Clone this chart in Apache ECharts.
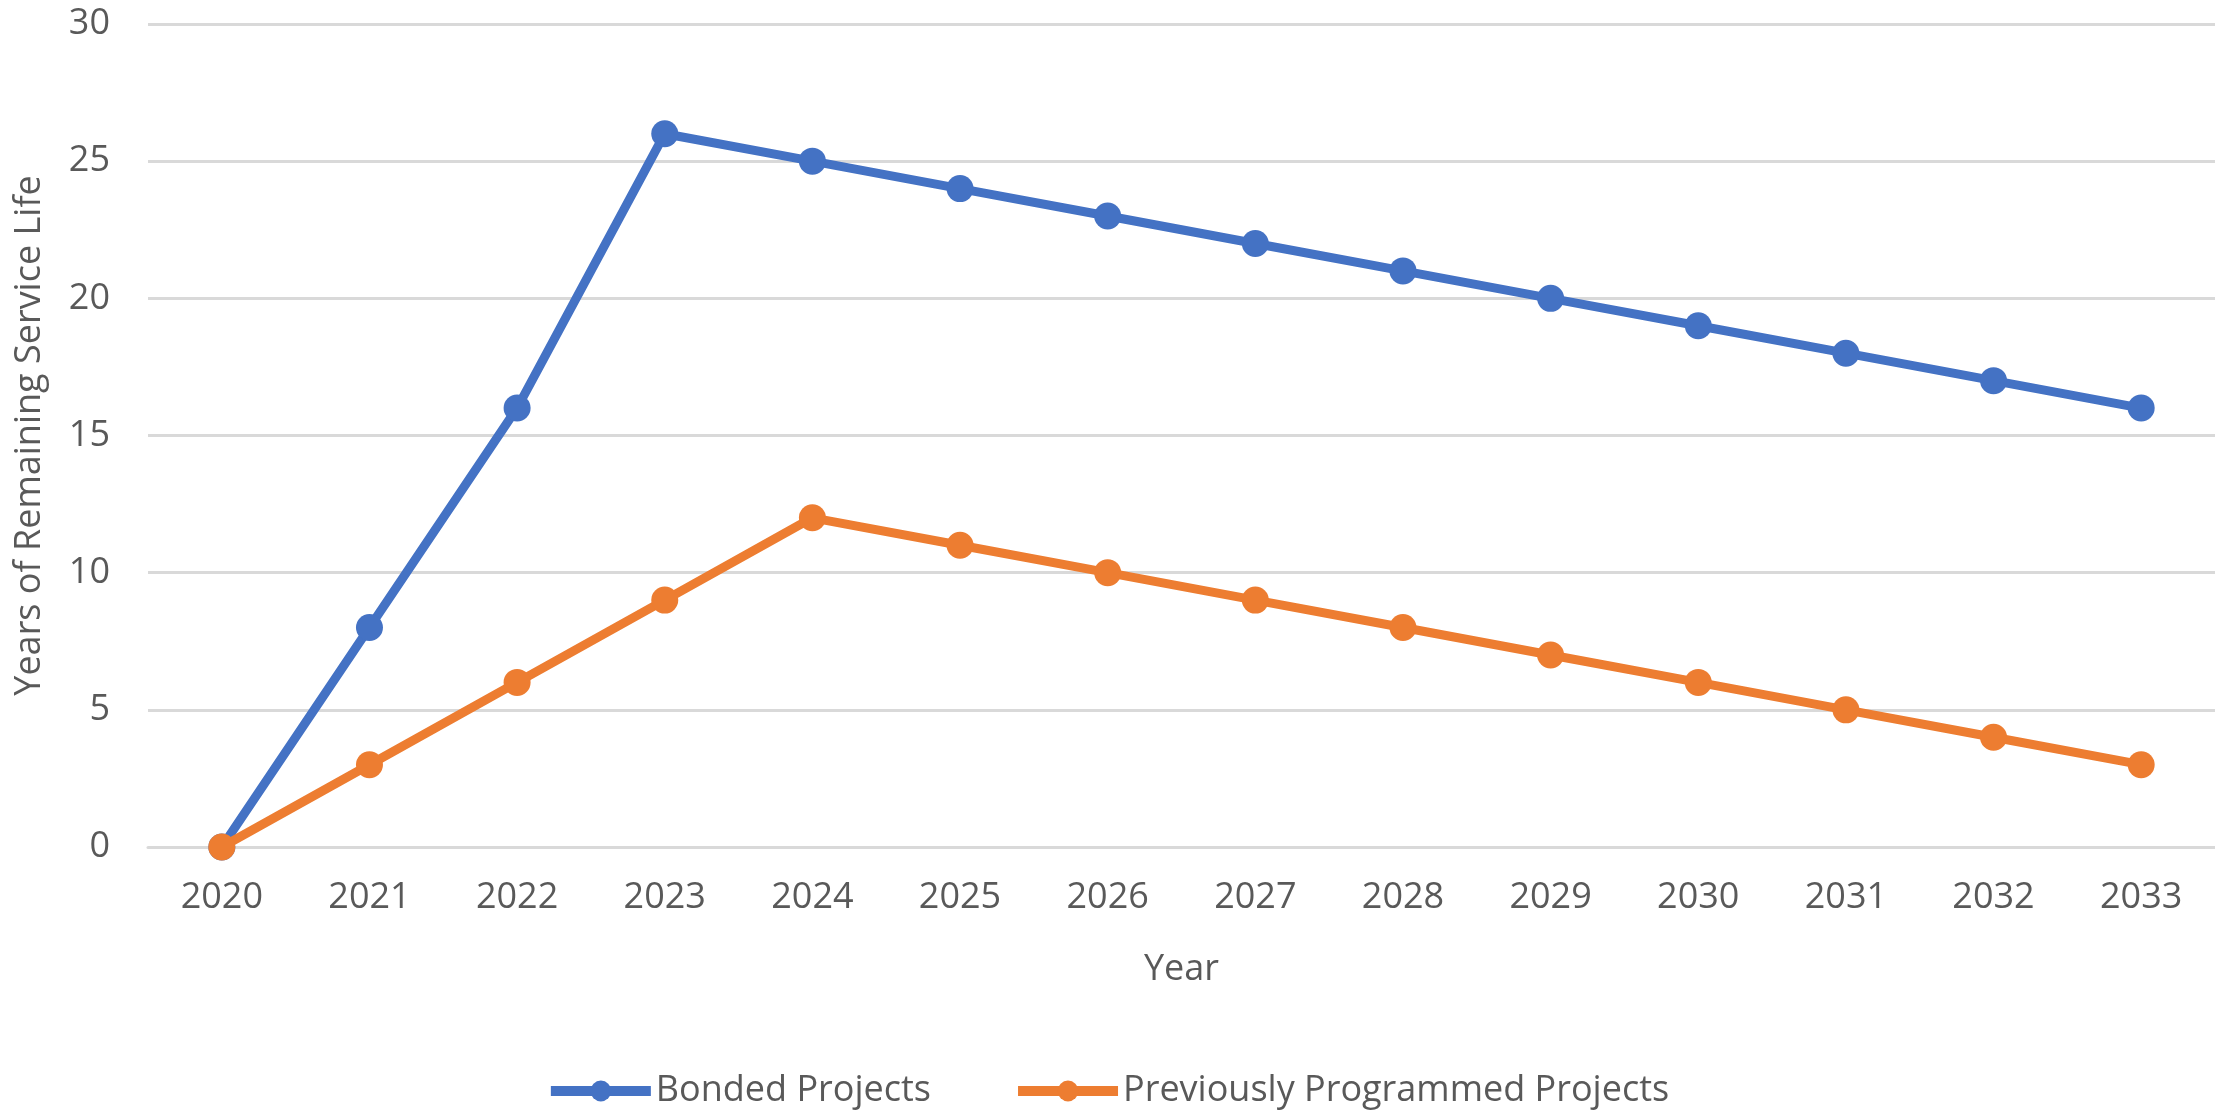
<!DOCTYPE html>
<html>
<head>
<meta charset="utf-8">
<script src="https://cdn.jsdelivr.net/npm/echarts@6/dist/echarts.min.js"></script>
<style>
html,body{margin:0;padding:0;background:#fff;}
#chart{width:2215px;height:1110px;}
</style>
</head>
<body>
<div id="chart"></div>
<script>
const years = ["2020","2021","2022","2023","2024","2025","2026","2027","2028","2029","2030","2031","2032","2033"];
const bondedProjects = [0, 8, 16, 26, 25, 24, 23, 22, 21, 20, 19, 18, 17, 16];
const previouslyProgrammed = [0, 3, 6, 9, 12, 11, 10, 9, 8, 7, 6, 5, 4, 3];
const yTicks = [0, 5, 10, 15, 20, 25, 30];

const FONT = "Open Sans";
const TXT = "#595959";
const chart = echarts.init(document.getElementById('chart'));
chart.setOption({
  animation: false,
  backgroundColor: '#ffffff',
  grid: { left: 148, right: -4, top: 24, bottom: 263, containLabel: false },
  legend: {
    bottom: -4,
    left: 'center',
    itemWidth: 100,
    itemHeight: 26,
    itemGap: 82,
    lineStyle: { width: 10 },
    textStyle: { fontFamily: FONT, fontSize: 36, color: TXT },
    data: ['Bonded Projects', 'Previously Programmed Projects']
  },
  xAxis: {
    type: 'category',
    data: years,
    boundaryGap: true,
    name: 'Year',
    nameLocation: 'middle',
    nameGap: 105,
    nameTextStyle: { fontFamily: FONT, fontSize: 36, color: TXT },
    axisLine: { show: true, lineStyle: { color: '#D9D9D9', width: 3 } },
    axisTick: { show: false },
    axisLabel: { fontFamily: FONT, fontSize: 36, color: TXT, margin: 33 },
    splitLine: { show: false }
  },
  yAxis: {
    type: 'value',
    min: yTicks[0],
    max: yTicks[yTicks.length - 1],
    interval: yTicks[1] - yTicks[0],
    name: 'Years of Remaining Service Life',
    nameLocation: 'middle',
    nameGap: 100,
    nameTextStyle: { fontFamily: FONT, fontSize: 36, color: TXT },
    axisLine: { show: false },
    axisTick: { show: false },
    axisLabel: { fontFamily: FONT, fontSize: 36, color: TXT, margin: 38 },
    splitLine: { show: true, lineStyle: { color: '#D9D9D9', width: 3 } }
  },
  series: [
    {
      name: 'Bonded Projects',
      type: 'line',
      data: bondedProjects,
      symbol: 'circle',
      symbolSize: 27,
      color: '#4472C4',
      lineStyle: { width: 9, color: '#4472C4' },
      itemStyle: { color: '#4472C4' },
      z: 2
    },
    {
      name: 'Previously Programmed Projects',
      type: 'line',
      data: previouslyProgrammed,
      symbol: 'circle',
      symbolSize: 27,
      color: '#ED7D31',
      lineStyle: { width: 9, color: '#ED7D31' },
      itemStyle: { color: '#ED7D31' },
      z: 3
    }
  ]
});
</script>
</body>
</html>
